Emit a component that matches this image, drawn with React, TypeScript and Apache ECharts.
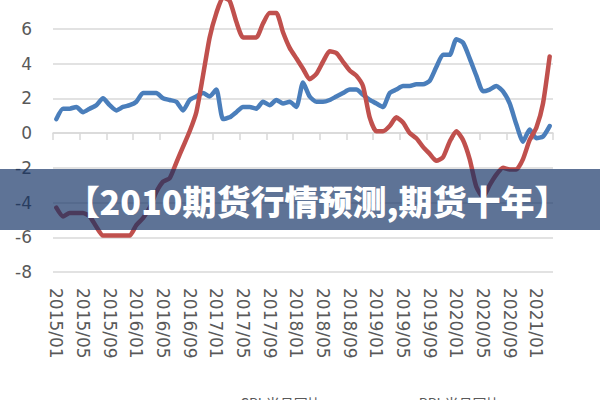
import React, { useEffect, useRef } from "react";
import * as echarts from "echarts";

const years = ["2015", "2016", "2017", "2018", "2019", "2020", "2021"];
const monthNums = ["01", "02", "03", "04", "05", "06", "07", "08", "09", "10", "11", "12"];
const categories: string[] = [];
years.forEach((y) => {
  monthNums.forEach((m) => {
    if (y === "2021" && Number(m) > 3) return;
    categories.push(`${y}/${m}`);
  });
});

const seriesNames = ["CPI:当月同比", "PPI:当月同比"];

const cpi = [
  0.8, 1.4, 1.4, 1.5, 1.2, 1.4, 1.6, 2.0, 1.6, 1.3, 1.5, 1.6,
  1.8, 2.3, 2.3, 2.3, 2.0, 1.9, 1.8, 1.3, 1.9, 2.1, 2.3, 2.1,
  2.5, 0.8, 0.9, 1.2, 1.5, 1.5, 1.4, 1.8, 1.6, 1.9, 1.7, 1.8,
  1.5, 2.9, 2.1, 1.8, 1.8, 1.9, 2.1, 2.3, 2.5, 2.5, 2.2, 1.9,
  1.7, 1.5, 2.3, 2.5, 2.7, 2.7, 2.8, 2.8, 3.0, 3.8, 4.5, 4.5,
  5.4, 5.2, 4.3, 3.3, 2.4, 2.5, 2.7, 2.4, 1.7, 0.5, -0.5, 0.2,
  -0.3, -0.2, 0.4,
];

const ppi = [
  -4.3, -4.8, -4.6, -4.6, -4.6, -4.8, -5.4, -5.9, -5.9, -5.9, -5.9, -5.9,
  -5.3, -4.9, -4.3, -3.4, -2.8, -2.6, -1.7, -0.8, 0.1, 1.2, 3.3, 5.5,
  6.9, 7.8, 7.6, 6.4, 5.5, 5.5, 5.5, 6.3, 6.9, 6.9, 5.8, 4.9,
  4.3, 3.7, 3.1, 3.4, 4.1, 4.7, 4.6, 4.1, 3.6, 3.3, 2.7, 0.9,
  0.1, 0.1, 0.4, 0.9, 0.6, 0.0, -0.3, -0.8, -1.2, -1.6, -1.4, -0.5,
  0.1, -0.4, -1.5, -3.1, -3.7, -3.0, -2.4, -2.0, -2.1, -2.1, -1.5, -0.4,
  0.3, 1.7, 4.4,
];

const bannerText = "【2010期货行情预测,期货十年】";

export default function App() {
  const ref = useRef<HTMLDivElement>(null);
  useEffect(() => {
    if (!ref.current) return;
    const chart = echarts.init(ref.current, undefined, { renderer: "svg" });
    const labelColor = "#595959";
    chart.setOption({
      animation: false,
      backgroundColor: "#ffffff",
      grid: {
        left: 53,
        right: 47,
        top: -6,
        bottom: 128,
        containLabel: false,
        outerBoundsMode: "none",
      },
      legend: {
        data: seriesNames,
        top: 391,
        left: 160,
        itemWidth: 70,
        itemHeight: 4,
        itemGap: 22,
        icon: "rect",
        textStyle: { color: labelColor, fontSize: 14, fontFamily: "Noto Sans CJK SC" },
      },
      xAxis: [
        {
          type: "category",
          data: categories,
          boundaryGap: true,
          position: "bottom",
          axisLine: { show: false, onZero: false },
          axisTick: { show: false },
          axisLabel: {
            interval: 3,
            rotate: -90,
            margin: 16,
            color: labelColor,
            fontSize: 17,
            fontFamily: "DejaVu Sans",
          },
          splitLine: { show: false },
        },
        {
          type: "category",
          data: categories,
          boundaryGap: true,
          position: "bottom",
          axisLine: { show: true, onZero: true, lineStyle: { color: "#d9d9d9", width: 1.5 } },
          axisTick: { show: true, interval: 3, length: 7, lineStyle: { color: "#d9d9d9", width: 1.5 } },
          axisLabel: { show: false },
          splitLine: { show: false },
        },
      ],
      yAxis: {
        type: "value",
        min: -8,
        max: 8,
        interval: 2,
        axisLine: { show: false },
        axisTick: { show: false },
        axisLabel: {
          margin: 21,
          color: labelColor,
          fontSize: 17,
          fontFamily: "DejaVu Sans",
        },
        splitLine: { lineStyle: { color: "#d9d9d9", width: 1.5 } },
      },
      series: [
        {
          name: seriesNames[0],
          type: "line",
          data: cpi,
          xAxisIndex: 0,
          showSymbol: false,
          smooth: 0.2,
          lineStyle: { color: "#4a7ebb", width: 4.5, cap: "round", join: "round" },
          itemStyle: { color: "#4a7ebb" },
          z: 2,
        },
        {
          name: seriesNames[1],
          type: "line",
          data: ppi,
          xAxisIndex: 0,
          showSymbol: false,
          smooth: 0.2,
          lineStyle: { color: "#c0504d", width: 4.5, cap: "round", join: "round" },
          itemStyle: { color: "#c0504d" },
          z: 3,
        },
      ],
      graphic: [
        {
          type: "rect",
          z: 100,
          shape: { x: 0, y: 169, width: 600, height: 61 },
          style: { fill: "rgba(18,48,100,0.68)" },
        },
        {
          type: "text",
          z: 101,
          x: 317,
          y: 200,
          style: {
            text: bannerText,
            fill: "#ffffff",
            font: "900 34px 'Noto Sans CJK SC', sans-serif",
            align: "center",
            verticalAlign: "middle",
            textAlign: "center",
            textVerticalAlign: "middle",
          },
        },
      ],
    });
    return () => chart.dispose();
  }, []);
  return (
    <div
      ref={ref}
      style={{ position: "fixed", left: 0, top: 0, width: 600, height: 400 }}
    />
  );
}
